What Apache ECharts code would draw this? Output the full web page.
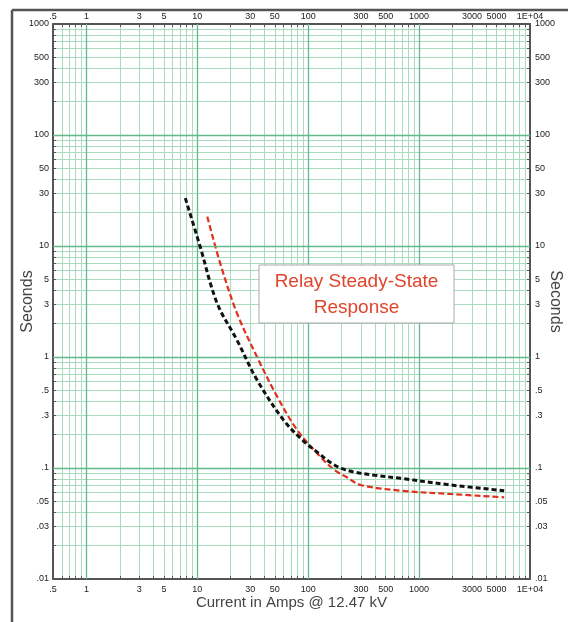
<!DOCTYPE html>
<html>
<head>
<meta charset="utf-8">
<script src="https://cdn.jsdelivr.net/npm/echarts@6/dist/echarts.min.js"></script>
<style>html,body{margin:0;padding:0;background:#fff}#c{width:568px;height:622px}</style>
</head>
<body>
<div id="c"></div>
<script>
// ---- data ----
var blackX = [7.8, 10.6, 15.1, 22.8, 34.6, 60, 88, 125, 159, 200, 258, 400, 682, 1929, 5850];
var blackY = [27, 9.9, 3.05, 1.42, 0.62, 0.27, 0.18, 0.135, 0.112, 0.099, 0.092, 0.086, 0.0807, 0.0703, 0.0625];
var redX = [12.3, 16.1, 22.8, 34.6, 52.5, 79.5, 120, 170, 225, 297, 682, 1929, 5850];
var redY = [18.4, 6.98, 2.48, 1.0, 0.44, 0.22, 0.136, 0.097, 0.082, 0.0703, 0.0625, 0.0583, 0.0544];

var xLabels = [0.5, 1, 3, 5, 10, 30, 50, 100, 300, 500, 1000, 3000, 5000, 10000];
var yLabels = [0.01, 0.03, 0.05, 0.1, 0.3, 0.5, 1, 3, 5, 10, 30, 50, 100, 300, 500, 1000];
var xDecades = [1, 10, 100, 1000];
var yDecades = [0.1, 1, 10, 100];

function minorTicks(lo, hi) {
  var out = [];
  for (var d = Math.floor(Math.log10(lo)); d <= Math.ceil(Math.log10(hi)); d++) {
    for (var m = 1; m <= 9; m++) {
      var v = +(m * Math.pow(10, d)).toPrecision(6);
      if (v >= lo - 1e-9 && v <= hi + 1e-9) out.push(v);
    }
  }
  return out;
}
var xTicks = minorTicks(0.5, 10000);
var yTicks = minorTicks(0.01, 1000);

function fmt(v) {
  v = +(+v).toPrecision(4);
  if (v >= 10000) return '1E+04';
  if (v < 1) return String(v).replace(/^0/, '');
  return String(Math.round(v));
}

function zip(xs, ys) { return xs.map(function (x, i) { return [x, ys[i]]; }); }

var axisLineStyle = { color: '#555', width: 2 };
var labelStyle = { fontSize: 9, color: '#222', fontFamily: 'Liberation Sans' };
var gridColor = '#abdbbf';

function xAxisCfg(pos, grid) {
  return {
    type: 'log', logBase: 10, min: 0.5, max: 10000, position: pos,
    axisLine: { show: true, onZero: false, lineStyle: axisLineStyle },
    axisTick: { show: true, inside: true, length: 3, customValues: xTicks, lineStyle: { color: '#555', width: 1 } },
    axisLabel: Object.assign({ customValues: xLabels, formatter: fmt, margin: pos === 'top' ? 3 : 6 }, labelStyle),
    splitLine: { show: grid, lineStyle: { color: gridColor, width: 1 } },
    minorTick: { show: false }, minorSplitLine: { show: false }
  };
}
function yAxisCfg(pos, grid) {
  return {
    type: 'log', logBase: 10, min: 0.01, max: 1000, position: pos,
    axisLine: { show: true, onZero: false, lineStyle: axisLineStyle },
    axisTick: { show: true, inside: true, length: 3, customValues: yTicks, lineStyle: { color: '#555', width: 1 } },
    axisLabel: Object.assign({ customValues: yLabels, formatter: fmt, margin: pos === 'left' ? 4 : 5 }, labelStyle),
    splitLine: { show: grid, lineStyle: { color: gridColor, width: 1 } },
    name: 'Seconds', nameLocation: 'middle', nameGap: 17, nameRotate: pos === 'left' ? 90 : -90,
    nameMoveOverlap: false,
    nameTextStyle: { fontSize: 16, color: '#444', fontFamily: 'Liberation Sans' }
  };
}

var xb = xAxisCfg('bottom', true);
xb.name = 'Current in Amps @ 12.47 kV';
xb.nameLocation = 'middle';
xb.nameGap = 16;
xb.nameMoveOverlap = false;
xb.nameTextStyle = { fontSize: 15, color: '#444', fontFamily: 'Liberation Sans' };

var decadeLines = xDecades.map(function (v) { return { xAxis: v }; })
  .concat(yDecades.map(function (v) { return { yAxis: v }; }));

var boxFont = '19px "Liberation Sans", Arial, sans-serif';

var chart = echarts.init(document.getElementById('c'), null, { renderer: 'canvas' });
chart.setOption({
  animation: false,
  backgroundColor: '#fff',
  grid: { left: 53, right: 38, top: 24, bottom: 43, containLabel: false, outerBoundsMode: 'none' },
  xAxis: [xb, xAxisCfg('top', false)],
  yAxis: [yAxisCfg('left', true), yAxisCfg('right', false)],
  graphic: [
    { type: 'line', shape: { x1: 12, y1: 10, x2: 568, y2: 10 }, style: { stroke: '#555', lineWidth: 2.5 }, z: 100 },
    { type: 'line', shape: { x1: 12, y1: 10, x2: 12, y2: 622 }, style: { stroke: '#555', lineWidth: 2.5 }, z: 100 },
    { type: 'rect', x: 259, y: 265, z: 100, shape: { x: 0, y: 0, width: 195, height: 58 }, style: { fill: '#ffffff', stroke: '#aaa', lineWidth: 1 } },
    { type: 'text', x: 356.5, y: 282, z: 101, style: { text: 'Relay Steady-State', fill: '#e0442c', font: boxFont, align: 'center', verticalAlign: 'middle' } },
    { type: 'text', x: 356.5, y: 308, z: 101, style: { text: 'Response', fill: '#e0442c', font: boxFont, align: 'center', verticalAlign: 'middle' } }
  ],
  series: [
    {
      type: 'line', data: [], xAxisIndex: 0, yAxisIndex: 0, z: 1, silent: true,
      markLine: {
        silent: true, symbol: ['none', 'none'], label: { show: false },
        lineStyle: { color: '#62b98b', width: 1.3, type: 'solid' },
        data: decadeLines
      }
    },
    {
      name: 'black', type: 'line', data: zip(blackX, blackY), xAxisIndex: 0, yAxisIndex: 0, z: 5,
      showSymbol: false, smooth: 0.35,
      lineStyle: { color: '#111', width: 3, type: [5, 3] }
    },
    {
      name: 'red', type: 'line', data: zip(redX, redY), xAxisIndex: 0, yAxisIndex: 0, z: 4,
      showSymbol: false, smooth: 0.35,
      lineStyle: { color: '#e0301e', width: 2.2, type: [6, 3] }
    }
  ]
});
</script>
</body>
</html>
